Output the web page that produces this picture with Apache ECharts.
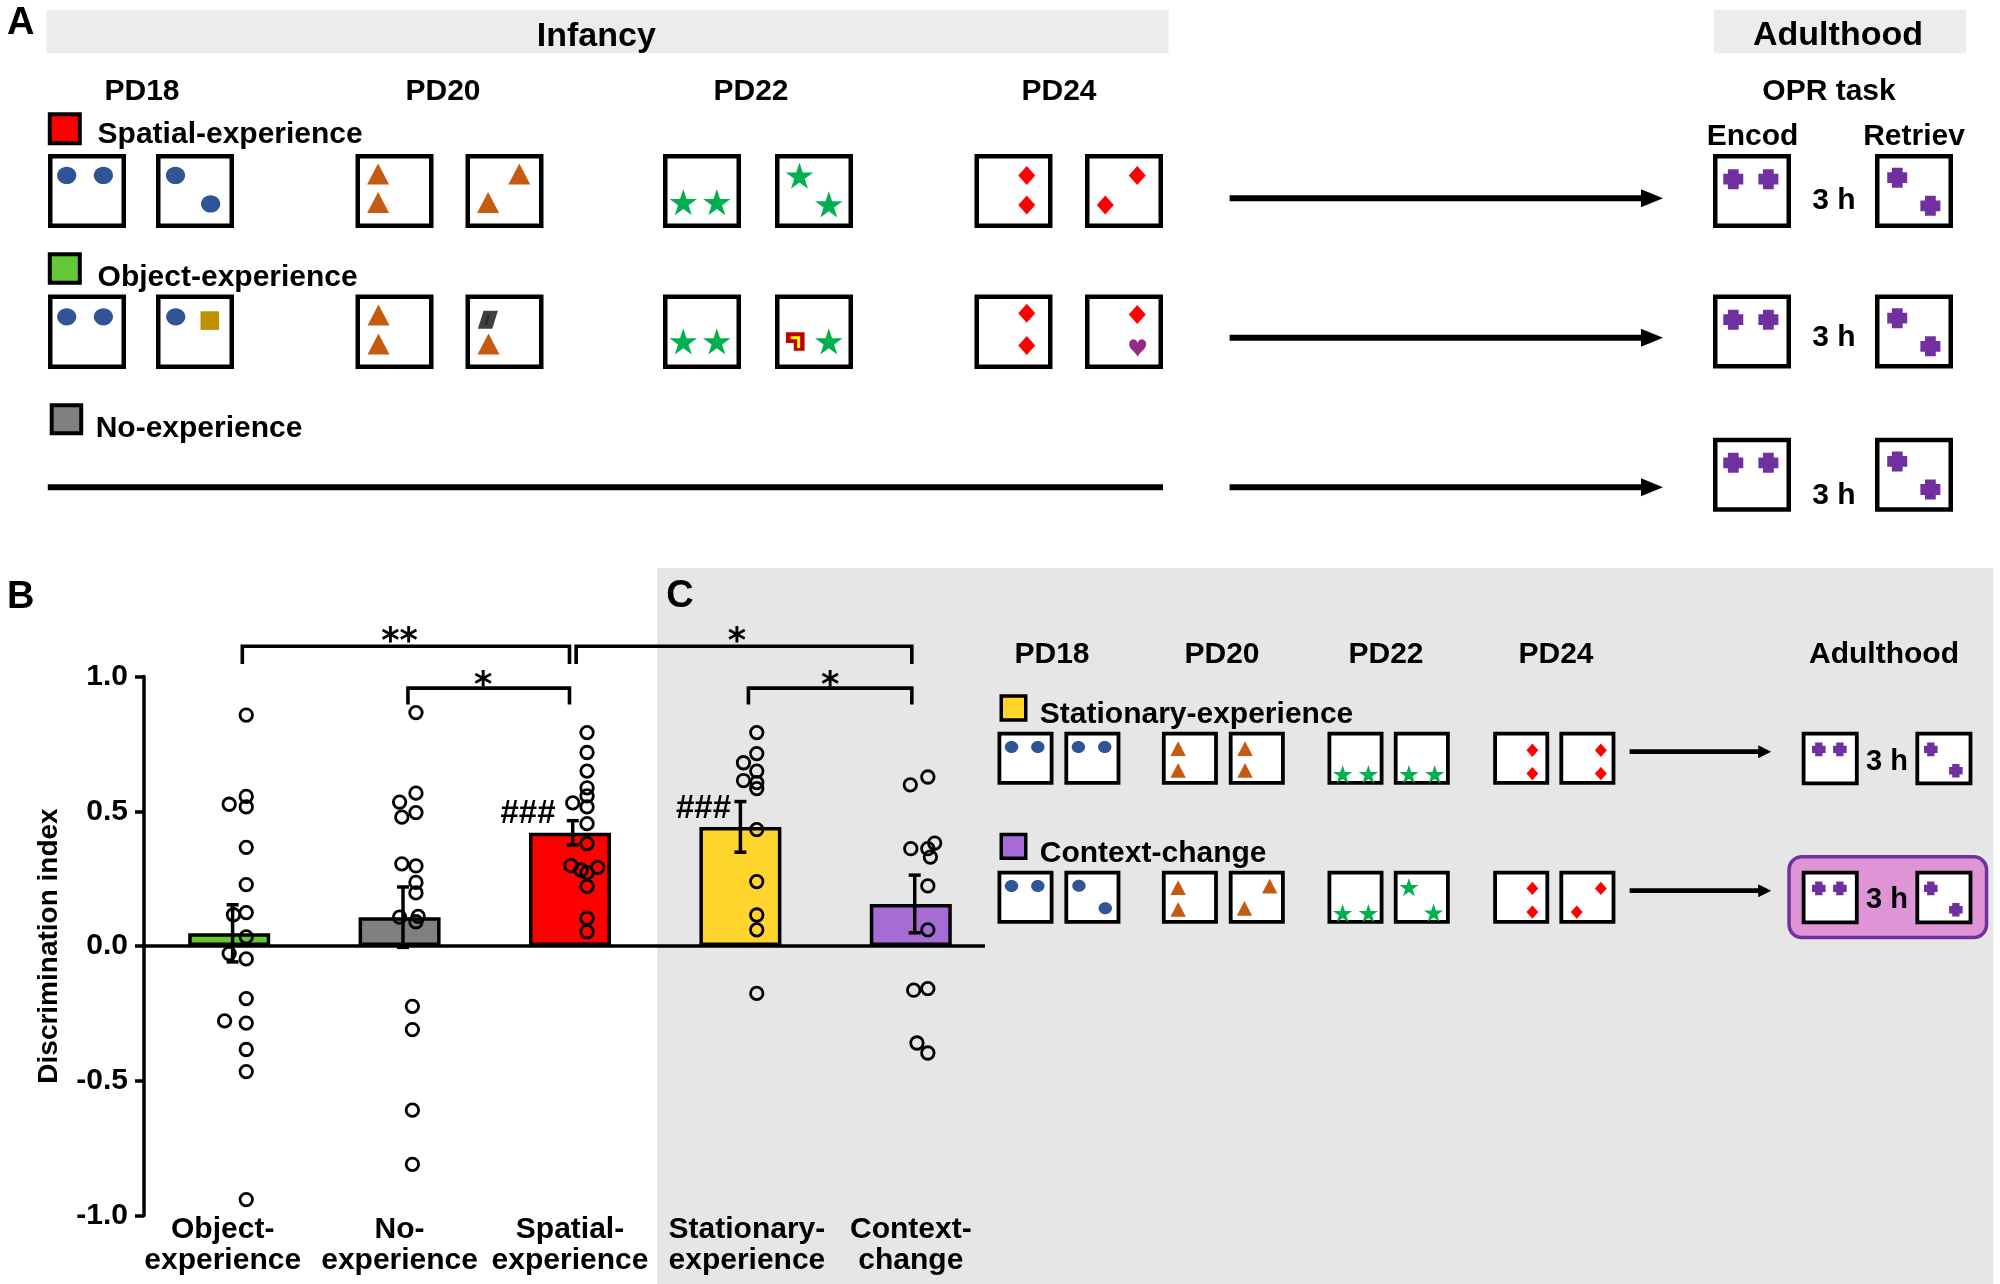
<!DOCTYPE html>
<html><head><meta charset="utf-8">
<script src="https://cdn.jsdelivr.net/npm/echarts@6/dist/echarts.min.js"></script>
<style>html,body{margin:0;padding:0;background:#fff}#c{width:2000px;height:1284px}</style>
</head><body><div id="c"></div>
<script>
// ---------------- DATA ----------------
const categories = ['Object-\nexperience','No-\nexperience','Spatial-\nexperience','Stationary-\nexperience','Context-\nchange'];
const barColors = ['#62c834','#808080','#ff0000','#ffd52d','#a66cd4'];
const means = [0.047, 0.107, 0.420, 0.442, 0.156];
const sems  = [0.106, 0.112, 0.045, 0.094, 0.107];
const errOffset = [0.02, 0.02, 0.016, 0.0, 0.023];

const objectDI = [0.857,0.526,0.555,0.516,0.366,0.228,0.124,0.116,0.034,-0.028,-0.048,-0.195,-0.278,-0.286,-0.384,-0.466,-0.941];
const objectJit = [0.10,0.0,0.10,0.10,0.10,0.10,0.10,0.025,0.10,0.0,0.10,0.10,-0.027,0.10,0.10,0.10,0.10];
const noDI = [0.866,0.567,0.534,0.495,0.478,0.305,0.297,0.236,0.197,0.107,0.110,0.090,-0.224,-0.310,-0.609,-0.810];
const noJit = [0.096,0.096,0.0,0.096,0.013,0.013,0.096,0.096,0.096,0.0,0.109,0.096,0.075,0.075,0.075,0.075];
const spatialDI = [0.792,0.718,0.649,0.587,0.557,0.531,0.516,0.454,0.380,0.298,0.282,0.292,0.272,0.221,0.103,0.053];
const spatialJit = [0.10,0.10,0.10,0.10,0.10,0.016,0.10,0.10,0.10,0.006,0.065,0.163,0.10,0.10,0.10,0.10];
const stationaryDI = [0.792,0.714,0.680,0.649,0.614,0.606,0.584,0.432,0.239,0.115,0.060,-0.176];
const stationaryJit = [0.096,0.096,0.018,0.096,0.018,0.096,0.096,0.096,0.096,0.096,0.096,0.096];
const contextDI = [0.627,0.598,0.382,0.361,0.361,0.330,0.223,0.060,-0.158,-0.164,-0.360,-0.397];
const contextJit = [0.10,-0.003,0.14,0.0,0.10,0.115,0.10,0.10,0.10,0.017,0.036,0.10];

const brackets = [
  {x1:0.077, x2:1.997, top:1.112, foot:1.046, labelX:1.00, labelY:1.126, text:'**'},
  {x1:1.049, x2:1.997, top:0.957, foot:0.896, labelX:1.49, labelY:0.962, text:'*'},
  {x1:2.036, x2:4.006, top:1.112, foot:1.046, labelX:2.98, labelY:1.126, text:'*'},
  {x1:3.047, x2:4.006, top:0.957, foot:0.896, labelX:3.527, labelY:0.962, text:'*'}
];
const hashMarks = [[1.915, 0.490, '###'], [2.945, 0.510, '###']];
const zeroLineExtent = [-0.5, 4.435];

const stageLabelsA = ['PD18','PD20','PD22','PD24','OPR task'];
const groupNamesA = ['Spatial-experience','Object-experience','No-experience'];
const stageLabelsC = ['PD18','PD20','PD22','PD24','Adulthood'];
const groupNamesC = ['Stationary-experience','Context-change'];

// ---------------- DRAWING HELPERS (schematics) ----------------
const FONT = '"Liberation Sans", Arial, Helvetica, sans-serif';
const TDY = 3.2;
const G = [];
function txt(x, y, s, size, align, z) {
  align = align || 'center';
  G.push({type:'text', z: z || 8, style:{x:x, y:y + TDY, text:s, font:'bold ' + size + 'px ' + FONT, fill:'#000',
    textAlign:align, align:align, textVerticalAlign:'middle', verticalAlign:'middle'}});
}
function rect(x, y, w, h, fill, stroke, lw, z, r) {
  lw = lw || 0;
  G.push({type:'rect', z: z || 5, shape:{x:x+lw/2, y:y+lw/2, width:w-lw, height:h-lw, r: r || 0},
    style:{fill:fill, stroke: stroke || null, lineWidth: lw}});
}
function poly(points, fill, z) { G.push({type:'polygon', z: z || 6, shape:{points:points}, style:{fill:fill}}); }
function tri(cx, cy, w, h, c) { poly([[cx, cy-h/2],[cx+w/2, cy+h/2],[cx-w/2, cy+h/2]], c); }
function star(cx, cy, R, c) {
  cy += 0.095 * R;
  const p = [];
  for (let i = 0; i < 10; i++) {
    const r = i % 2 ? R * 0.382 : R;
    const a = -Math.PI/2 + i * Math.PI/5;
    p.push([cx + r*Math.cos(a), cy + r*Math.sin(a)]);
  }
  poly(p, c);
}
function dia(cx, cy, w, h, c) { poly([[cx, cy-h/2],[cx+w/2, cy],[cx, cy+h/2],[cx-w/2, cy]], c); }
function cross(cx, cy, s, c) {
  const a = s/2, b = s*0.27;
  poly([[-b,-a],[b,-a],[b,-b],[a,-b],[a,b],[b,b],[b,a],[-b,a],[-b,b],[-a,b],[-a,-b],[-b,-b]].map(p => [cx+p[0], cy+p[1]]), c);
}
function square(cx, cy, s, c) { poly([[cx-s/2,cy-s/2],[cx+s/2,cy-s/2],[cx+s/2,cy+s/2],[cx-s/2,cy+s/2]], c); }
function para(cx, cy, w, h, c) {
  const sk = w * 0.28;
  poly([[cx-w/2+sk, cy-h/2],[cx+w/2, cy-h/2],[cx+w/2-sk, cy+h/2],[cx-w/2, cy+h/2]], c);
  poly([[cx-w*0.18+sk*0.5, cy-h*0.3],[cx+w*0.12, cy-h*0.3],[cx+w*0.12-sk*0.5, cy+h*0.3],[cx-w*0.18, cy+h*0.3]], '#2b2b2b', 7);
}
function heart(cx, cy, w, h, c) {
  const p = [];
  for (let i = 0; i < 48; i++) {
    const t = i / 48 * Math.PI * 2;
    const x = 16 * Math.pow(Math.sin(t), 3);
    const y = -(13*Math.cos(t) - 5*Math.cos(2*t) - 2*Math.cos(3*t) - Math.cos(4*t));
    p.push([cx + x/32*w, cy + (y - 2.5)/29*h]);
  }
  poly(p, c);
}
function licon(cx, cy, s) {
  const x0 = cx - s/2, y0 = cy - s/2;
  poly([[x0,y0],[x0+s,y0],[x0+s,y0+s],[x0+s*0.42,y0+s],[x0+s*0.42,y0+s*0.58],[x0,y0+s*0.58]], '#c00000');
  G.push({type:'polyline', z:7, shape:{points:[[x0+s*0.25,y0+s*0.3],[x0+s*0.68,y0+s*0.3],[x0+s*0.68,y0+s*0.85]]},
    style:{stroke:'#ffff00', lineWidth: s*0.16, fill:null}});
}
function drawShape(t, cx, cy, k) {
  switch (t) {
    case 'c': G.push({type:'ellipse', z:6, shape:{cx:cx, cy:cy, rx:9.6*k, ry:8.6*k}, style:{fill:'#2f5597'}}); break;
    case 't': tri(cx, cy, 22*k, 21*k, '#c55a11'); break;
    case 's': star(cx, cy, 14.5*k, '#00b050'); break;
    case 'd': dia(cx, cy, 17*k, 19*k, '#ff0000'); break;
    case 'x': cross(cx, cy, 20*k, '#7030a0'); break;
    case 'q': square(cx, cy, 18.6*k, '#bf9000'); break;
    case 'p': para(cx, cy, 20*k, 18*k, '#404040'); break;
    case 'h': heart(cx, cy, 17*k, 18*k, '#922c87'); break;
    case 'L': licon(cx, cy, 18.6*k); break;
  }
}
function box(left, top, w, h, lw, shapes, k) {
  rect(left, top, w, h, '#fff', '#000', lw, 5);
  shapes.forEach(s => drawShape(s[0], left + s[1]*w, top + s[2]*h, k));
}
function arrow(x1, x2, y, lw, hl, hh) {
  G.push({type:'line', z:5, shape:{x1:x1, y1:y, x2:x2-hl+1, y2:y}, style:{stroke:'#000', lineWidth:lw}});
  poly([[x2-hl, y-hh/2],[x2, y],[x2-hl, y+hh/2]], '#000', 5);
}

// ---------------- PANEL A ----------------
txt(20.7, 20, 'A', 38);
rect(46.6, 10, 1122, 43.3, '#ececec', null, 0, 1);
rect(1714, 10, 252, 43.3, '#ececec', null, 0, 1);
txt(596.3, 33, 'Infancy', 34);
txt(1838, 32, 'Adulthood', 34);
[142, 443, 751, 1059, 1829].forEach((x, i) => txt(x, 88.3, stageLabelsA[i], 30));
txt(1752.6, 133.7, 'Encod', 30);
txt(1914, 133.7, 'Retriev', 30);

rect(47.8, 112.3, 34, 33, '#ff0000', '#000', 4, 5);
txt(97.6, 131.5, groupNamesA[0], 30, 'left');
rect(47.8, 252.3, 34, 32.5, '#62c834', '#000', 4, 5);
txt(97.6, 275, groupNamesA[1], 30, 'left');
rect(49.7, 403.3, 33.5, 32, '#808080', '#000', 4, 5);
txt(95.7, 425.5, groupNamesA[2], 30, 'left');

const A_left = [48, 156, 355.5, 465.5, 663, 775, 974.5, 1085];
const A_row1 = [
  [['c',.24,.29],['c',.71,.29]], [['c',.25,.29],['c',.70,.675]],
  [['t',.29,.27],['t',.29,.655]], [['t',.69,.27],['t',.29,.655]],
  [['s',.26,.65],['s',.69,.65]], [['s',.314,.293],['s',.69,.68]],
  [['d',.67,.29],['d',.67,.69]], [['d',.67,.29],['d',.26,.69]]
];
const A_row2 = [
  [['c',.24,.30],['c',.71,.30]], [['c',.253,.30],['q',.69,.35]],
  [['t',.295,.274],['t',.295,.666]], [['p',.287,.338],['t',.295,.666]],
  [['s',.26,.63],['s',.69,.63]], [['L',.26,.63],['s',.69,.63]],
  [['d',.67,.25],['d',.67,.685]], [['d',.67,.27],['h',.675,.72]]
];
A_left.forEach((x, i) => box(x, 154, 78, 74, 4.5, A_row1[i], 1));
A_left.forEach((x, i) => box(x, 294.5, 78, 74.5, 4.5, A_row2[i], 1));
const encA = [['x',.26,.34],['x',.71,.34]], retA = [['x',.285,.32],['x',.71,.70]];
[154, 294.5, 437.7].forEach(t => { box(1713, t, 78, 74, 4.5, encA, 1); box(1875, t, 78, 74, 4.5, retA, 1); });
txt(1834, 198, '3 h', 30); txt(1834, 334.5, '3 h', 30); txt(1834, 492.5, '3 h', 30);
arrow(1229.6, 1663, 198.3, 6, 22, 18);
arrow(1229.6, 1663, 337.7, 6, 22, 18);
arrow(1229.6, 1663, 487.3, 6, 22, 18);
G.push({type:'line', z:5, shape:{x1:47.8, y1:487.3, x2:1163, y2:487.3}, style:{stroke:'#000', lineWidth:6}});

// ---------------- PANEL C schematic ----------------
G.push({type:'rect', z:-10, shape:{x:657, y:568, width:1336, height:716}, style:{fill:'#e6e6e6'}});
txt(20.7, 594, 'B', 38);
txt(680, 593, 'C', 38);
[1052, 1222, 1386, 1556, 1884].forEach((x, i) => txt(x, 652, stageLabelsC[i], 30));
rect(999.5, 694.3, 28, 27.4, '#ffd52d', '#000', 3.5, 5);
txt(1039.8, 712, groupNamesC[0], 30, 'left');
rect(999.5, 832.7, 28, 27.4, '#a66cd4', '#000', 3.5, 5);
txt(1039.8, 851, groupNamesC[1], 30, 'left');

const C_left = [997.5, 1064.4, 1161.9, 1228.8, 1327.5, 1393.8, 1493.2, 1559.4];
const C_row1 = [
  [['c',.25,.29],['c',.72,.29]], [['c',.25,.29],['c',.72,.29]],
  [['t',.29,.32],['t',.29,.73]], [['t',.29,.32],['t',.29,.73]],
  [['s',.27,.80],['s',.73,.80]], [['s',.27,.80],['s',.73,.80]],
  [['d',.70,.35],['d',.70,.79]], [['d',.74,.35],['d',.74,.79]]
];
const C_row2 = [
  [['c',.25,.29],['c',.72,.29]], [['c',.26,.285],['c',.73,.71]],
  [['t',.29,.32],['t',.29,.73]], [['t',.73,.29],['t',.28,.71]],
  [['s',.27,.80],['s',.73,.80]], [['s',.27,.31],['s',.71,.79]],
  [['d',.70,.335],['d',.70,.78]], [['d',.74,.335],['d',.31,.78]]
];
C_left.forEach((x, i) => box(x, 731.7, 56, 53, 3.8, C_row1[i], 0.7));
C_left.forEach((x, i) => box(x, 870.7, 56, 53, 3.8, C_row2[i], 0.7));
rect(1787.3, 855, 201, 84.3, '#df95d5', '#7030a0', 3.5, 4, 13);
const encC = [['x',.30,.33],['x',.67,.33]], retC = [['x',.27,.33],['x',.71,.73]];
[731.7, 870.7].forEach(t => { box(1801.7, t, 57, 53.5, 3.8, encC, 0.68); box(1915.4, t, 57, 53.5, 3.8, retC, 0.68); });
txt(1887, 758.5, '3 h', 29); txt(1887, 897, '3 h', 29);
arrow(1629.6, 1771.2, 751.7, 4.7, 13, 13);
arrow(1629.6, 1771.2, 890.7, 4.7, 13, 13);

// ---------------- CHART ----------------
const groupsDI = [objectDI, noDI, spatialDI, stationaryDI, contextDI];
const groupsJit = [objectJit, noJit, spatialJit, stationaryJit, contextJit];
const dots = [];
groupsDI.forEach((arr, g) => arr.forEach((v, j) => dots.push([g + groupsJit[g][j], v])));

const labelStyle = {fontSize:30, fontWeight:'bold', fontFamily:FONT, color:'#000', lineHeight:31};
const labelRich = {
  l: Object.assign({padding:[0,13,0,0]}, labelStyle),
  m: Object.assign({}, labelStyle),
  r: Object.assign({padding:[0,0,0,13]}, labelStyle)
};
const labelShift = ['l','m','m','r','m'];

const chart = echarts.init(document.getElementById('c'), null, {renderer:'canvas', width:2000, height:1284});
const option = {
  animation: false,
  backgroundColor: '#fff',
  grid: {left:144, top:676.5, width:852, height:539, containLabel:false},
  xAxis: [
    {type:'category', data:categories, position:'bottom',
     axisLine:{show:false, onZero:false}, axisTick:{show:false}, splitLine:{show:false},
     axisLabel:Object.assign({interval:0, margin:-1.5, rich:labelRich,
       formatter: (v, i) => v.split('\n').map(s => '{' + labelShift[i] + '|' + s + '}').join('\n')}, labelStyle)},
    {type:'value', min:-0.5, max:4.5, position:'top',
     axisLine:{show:false}, axisTick:{show:false}, axisLabel:{show:false}, splitLine:{show:false}}
  ],
  yAxis: {type:'value', min:-1, max:1, interval:0.5,
    name:'Discrimination index', nameLocation:'middle', nameGap:81,
    nameTextStyle:{fontSize:28, fontWeight:'bold', fontFamily:FONT, color:'#000'},
    axisLine:{show:true, onZero:false, lineStyle:{color:'#000', width:3.5}},
    axisTick:{show:true, length:9, lineStyle:{color:'#000', width:3.5}},
    splitLine:{show:false},
    axisLabel:{formatter: v => v.toFixed(1), fontSize:30, fontWeight:'bold', fontFamily:FONT, color:'#000', margin:16, padding:[5,0,0,0]}},
  series: [
    {type:'custom', xAxisIndex:1, yAxisIndex:0, z:1, clip:false,
     data: [[zeroLineExtent[0], 0, zeroLineExtent[1]]],
     renderItem: (params, api) => {
       const a = api.coord([api.value(0), api.value(1)]), b = api.coord([api.value(2), api.value(1)]);
       return {type:'line', shape:{x1:a[0], y1:a[1], x2:b[0], y2:b[1]}, style:{stroke:'#000', lineWidth:3.5}};
     }},
    {type:'bar', xAxisIndex:0, yAxisIndex:0, barWidth:82, z:2,
     itemStyle:{borderColor:'#000', borderWidth:3.5},
     data: means.map((v, i) => ({value:v, itemStyle:{color:barColors[i]}}))},
    {type:'custom', xAxisIndex:1, yAxisIndex:0, z:3,
     data: means.map((m, i) => [i + errOffset[i], m, sems[i]]),
     renderItem: (params, api) => {
       const x = api.value(0), m = api.value(1), s = api.value(2);
       const a = api.coord([x, m + s]), b = api.coord([x, m - s]);
       const hw = 6, st = {stroke:'#000', lineWidth:3.5};
       return {type:'group', children:[
         {type:'line', shape:{x1:a[0], y1:a[1], x2:b[0], y2:b[1]}, style:st},
         {type:'line', shape:{x1:a[0]-hw, y1:a[1], x2:a[0]+hw, y2:a[1]}, style:st},
         {type:'line', shape:{x1:b[0]-hw, y1:b[1], x2:b[0]+hw, y2:b[1]}, style:st}
       ]};
     }},
    {type:'scatter', xAxisIndex:1, yAxisIndex:0, z:4, symbol:'circle', symbolSize:12.5,
     itemStyle:{color:'rgba(0,0,0,0)', borderColor:'#000', borderWidth:2.8, opacity:1},
     data: dots},
    {type:'custom', xAxisIndex:1, yAxisIndex:0, z:5, clip:false,
     data: brackets.map(b => [b.x1, b.top, b.x2, b.foot, b.labelY]),
     renderItem: (params, api) => {
       const b = brackets[params.dataIndex];
       const p1 = api.coord([b.x1, b.foot]), p2 = api.coord([b.x1, b.top]);
       const p3 = api.coord([b.x2, b.top]), p4 = api.coord([b.x2, b.foot]);
       const lp = api.coord([b.labelX, b.labelY]);
       return {type:'group', children:[
         {type:'polyline', shape:{points:[p1, p2, p3, p4]}, style:{stroke:'#000', lineWidth:3.6, fill:null}},
         {type:'text', style:{x:lp[0], y:lp[1], text:b.text, font:'bold 35px "DejaVu Sans", sans-serif', fill:'#000',
           textAlign:'center', align:'center', textVerticalAlign:'middle', verticalAlign:'middle'}}
       ]};
     }},
    {type:'custom', xAxisIndex:1, yAxisIndex:0, z:5, clip:false,
     data: hashMarks.map(h => [h[0], h[1]]),
     renderItem: (params, api) => {
       const p = api.coord([api.value(0), api.value(1)]);
       return {type:'text', style:{x:p[0], y:p[1], text:hashMarks[params.dataIndex][2], font:'bold 33px ' + FONT, fill:'#000',
         textAlign:'right', align:'right', textVerticalAlign:'middle', verticalAlign:'middle'}};
     }}
  ],
  graphic: {elements: G}
};
chart.setOption(option);
</script>
</body></html>
